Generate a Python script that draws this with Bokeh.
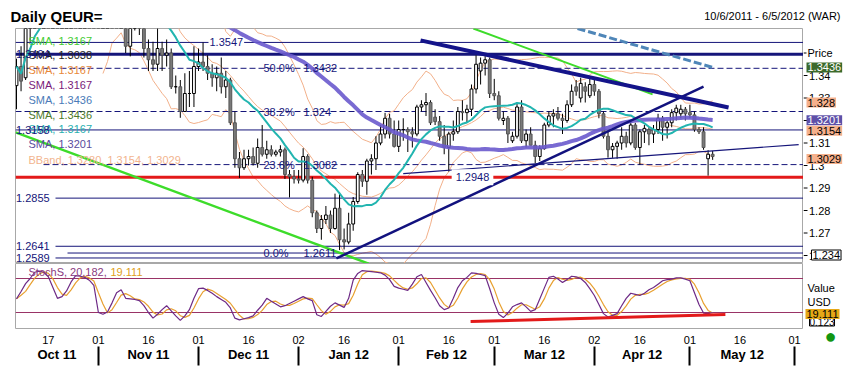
import numpy as np
import pandas as pd
from bokeh.plotting import figure
from bokeh.layouts import column, row
from bokeh.models import Range1d, LinearAxis, FixedTicker, Label, ColumnDataSource
from bokeh.core.properties import value
from bokeh.embed import file_html
from bokeh.resources import INLINE

# ---------------- data ----------------
start_date = "2011-10-06"   # first candle; one candle per trading day
opens = [1.3355, 1.3440, 1.3390, 1.3620, 1.3640, 1.3790, 1.3760, 1.3880, 1.3720, 1.3760,
         1.3730, 1.3780, 1.3900, 1.3920, 1.3900, 1.3910, 1.4180, 1.4150, 1.3860, 1.3690,
         1.3750, 1.3800, 1.3790, 1.3760, 1.3820, 1.3530, 1.3610, 1.3750, 1.3630, 1.3520,
         1.3470, 1.3450, 1.3520, 1.3490, 1.3500, 1.3350, 1.3350, 1.3240, 1.3320, 1.3320,
         1.3440, 1.3460, 1.3440, 1.3410, 1.3390, 1.3410, 1.3350, 1.3380, 1.3190, 1.3030,
         1.2990, 1.3030, 1.3040, 1.3010, 1.3080, 1.3050, 1.3070, 1.3050, 1.3060, 1.3070,
         1.2960, 1.2950, 1.2940, 1.2935, 1.3040, 1.2935, 1.2790, 1.2720, 1.2760, 1.2780,
         1.2720, 1.2810, 1.2670, 1.2660, 1.2740, 1.2840, 1.2960, 1.2930, 1.3020, 1.3030,
         1.3100, 1.3140, 1.3210, 1.3140, 1.3085, 1.3160, 1.3160, 1.3150, 1.3140, 1.3260,
         1.3270, 1.3280, 1.3215, 1.3195, 1.3130, 1.3080, 1.3140, 1.3150, 1.3240, 1.3235,
         1.3250, 1.3340, 1.3420, 1.3455, 1.3470, 1.3320, 1.3310, 1.3200, 1.3210, 1.3110,
         1.3130, 1.3260, 1.3110, 1.3140, 1.3090, 1.3040, 1.3075, 1.3180, 1.3220, 1.3230,
         1.3210, 1.3200, 1.3270, 1.3350, 1.3300, 1.3350, 1.3310, 1.3360, 1.3330, 1.3230,
         1.3130, 1.3070, 1.3085, 1.3100, 1.3130, 1.3100, 1.3180, 1.3080, 1.3150, 1.3160,
         1.3140, 1.3160, 1.3210, 1.3170, 1.3190, 1.3235, 1.3230, 1.3250, 1.3235, 1.3225,
         1.3160, 1.3150, 1.3030, 1.3050]
highs = [1.3475, 1.3530, 1.3660, 1.3700, 1.3830, 1.3810, 1.3890, 1.3910, 1.3800, 1.3840,
         1.3790, 1.3905, 1.3960, 1.3970, 1.3960, 1.4247, 1.4200, 1.4160, 1.3870, 1.3800,
         1.3870, 1.3860, 1.3800, 1.3850, 1.3850, 1.3650, 1.3790, 1.3790, 1.3660, 1.3560,
         1.3550, 1.3610, 1.3550, 1.3560, 1.3520, 1.3400, 1.3380, 1.3410, 1.3420, 1.3530,
         1.3520, 1.3547, 1.3490, 1.3450, 1.3440, 1.3480, 1.3420, 1.3390, 1.3240, 1.3060,
         1.3070, 1.3070, 1.3080, 1.3120, 1.3180, 1.3110, 1.3090, 1.3070, 1.3090, 1.3080,
         1.2980, 1.2980, 1.2980, 1.3077, 1.3050, 1.2950, 1.2800, 1.2780, 1.2820, 1.2800,
         1.2875, 1.2880, 1.2720, 1.2790, 1.2860, 1.2970, 1.2980, 1.3030, 1.3050, 1.3130,
         1.3180, 1.3234, 1.3230, 1.3200, 1.3200, 1.3210, 1.3170, 1.3170, 1.3270, 1.3290,
         1.3322, 1.3290, 1.3250, 1.3220, 1.3180, 1.3150, 1.3200, 1.3260, 1.3290, 1.3270,
         1.3360, 1.3490, 1.3480, 1.3486, 1.3480, 1.3385, 1.3330, 1.3240, 1.3220, 1.3150,
         1.3280, 1.3290, 1.3160, 1.3170, 1.3110, 1.3090, 1.3190, 1.3240, 1.3250, 1.3260,
         1.3230, 1.3290, 1.3360, 1.3380, 1.3390, 1.3370, 1.3385, 1.3385, 1.3340, 1.3240,
         1.3150, 1.3100, 1.3110, 1.3170, 1.3150, 1.3200, 1.3190, 1.3160, 1.3180, 1.3170,
         1.3180, 1.3230, 1.3220, 1.3200, 1.3250, 1.3270, 1.3270, 1.3260, 1.3270, 1.3240,
         1.3170, 1.3170, 1.3068, 1.3065]
lows = [1.3250, 1.3330, 1.3380, 1.3550, 1.3610, 1.3700, 1.3730, 1.3690, 1.3655, 1.3700,
        1.3655, 1.3740, 1.3850, 1.3845, 1.3780, 1.3890, 1.4100, 1.3840, 1.3610, 1.3660,
        1.3610, 1.3720, 1.3660, 1.3700, 1.3500, 1.3485, 1.3600, 1.3580, 1.3480, 1.3420,
        1.3420, 1.3420, 1.3420, 1.3440, 1.3340, 1.3320, 1.3212, 1.3240, 1.3260, 1.3260,
        1.3420, 1.3420, 1.3380, 1.3350, 1.3330, 1.3320, 1.3300, 1.3180, 1.2990, 1.2945,
        1.2980, 1.3000, 1.3000, 1.2990, 1.3040, 1.3030, 1.3040, 1.3040, 1.3040, 1.2940,
        1.2858, 1.2920, 1.2920, 1.2925, 1.2920, 1.2770, 1.2700, 1.2670, 1.2740, 1.2700,
        1.2715, 1.2624, 1.2627, 1.2650, 1.2710, 1.2830, 1.2905, 1.2870, 1.2960, 1.2980,
        1.3090, 1.3120, 1.3120, 1.3080, 1.3060, 1.3110, 1.3060, 1.3080, 1.3130, 1.3240,
        1.3220, 1.3180, 1.3180, 1.3110, 1.3050, 1.2973, 1.3110, 1.3140, 1.3200, 1.3190,
        1.3220, 1.3320, 1.3360, 1.3400, 1.3300, 1.3290, 1.3200, 1.3180, 1.3100, 1.3100,
        1.3120, 1.3100, 1.3080, 1.3090, 1.3010, 1.3020, 1.3070, 1.3170, 1.3170, 1.3200,
        1.3140, 1.3190, 1.3260, 1.3310, 1.3280, 1.3280, 1.3300, 1.3310, 1.3210, 1.3120,
        1.3035, 1.3034, 1.3030, 1.3070, 1.3080, 1.3090, 1.3070, 1.3003, 1.3100, 1.3090,
        1.3100, 1.3140, 1.3110, 1.3120, 1.3170, 1.3200, 1.3210, 1.3200, 1.3210, 1.3150,
        1.3140, 1.3070, 1.2955, 1.3025]
closes = [1.3440, 1.3375, 1.3620, 1.3640, 1.3790, 1.3760, 1.3880, 1.3720, 1.3760, 1.3730,
          1.3780, 1.3900, 1.3920, 1.3900, 1.3910, 1.4180, 1.4150, 1.3860, 1.3690, 1.3750,
          1.3800, 1.3790, 1.3760, 1.3820, 1.3530, 1.3610, 1.3750, 1.3630, 1.3520, 1.3470,
          1.3450, 1.3520, 1.3490, 1.3500, 1.3350, 1.3350, 1.3240, 1.3320, 1.3320, 1.3440,
          1.3460, 1.3440, 1.3410, 1.3390, 1.3410, 1.3350, 1.3380, 1.3190, 1.3030, 1.2990,
          1.3030, 1.3040, 1.3010, 1.3080, 1.3050, 1.3070, 1.3050, 1.3060, 1.3070, 1.2960,
          1.2950, 1.2940, 1.2935, 1.3040, 1.2935, 1.2790, 1.2720, 1.2760, 1.2780, 1.2720,
          1.2810, 1.2670, 1.2660, 1.2740, 1.2840, 1.2960, 1.2930, 1.3020, 1.3030, 1.3100,
          1.3140, 1.3210, 1.3140, 1.3085, 1.3160, 1.3160, 1.3150, 1.3140, 1.3260, 1.3270,
          1.3280, 1.3190, 1.3195, 1.3130, 1.3080, 1.3140, 1.3150, 1.3240, 1.3235, 1.3250,
          1.3340, 1.3450, 1.3455, 1.3470, 1.3320, 1.3310, 1.3210, 1.3210, 1.3140, 1.3130,
          1.3260, 1.3110, 1.3140, 1.3090, 1.3040, 1.3075, 1.3180, 1.3220, 1.3230, 1.3210,
          1.3200, 1.3270, 1.3330, 1.3330, 1.3365, 1.3330, 1.3360, 1.3330, 1.3230, 1.3130,
          1.3070, 1.3085, 1.3100, 1.3130, 1.3100, 1.3180, 1.3080, 1.3150, 1.3165, 1.3140,
          1.3160, 1.3210, 1.3170, 1.3190, 1.3235, 1.3255, 1.3250, 1.3230, 1.3225, 1.3160,
          1.3150, 1.3080, 1.3050, 1.3040]

# slow stochastic %K (one value per candle)
stoch_k = [44, 57, 71, 80, 91, 93, 91, 83, 64, 45, 48, 58, 74, 85, 84, 82, 77, 68, 20, 17,
           21, 37, 55, 60, 45, 44, 43, 41, 32, 20, 10, 17, 25, 32, 23, 14, 6, 14, 25, 45,
           62, 63, 59, 54, 48, 43, 38, 28, 10, 7, 9, 11, 14, 24, 33, 45, 40, 35, 30, 32,
           36, 40, 44, 48, 44, 41, 16, 13, 22, 31, 37, 33, 29, 45, 77, 89, 94, 93, 92, 91,
           90, 86, 78, 66, 63, 61, 59, 70, 83, 87, 73, 59, 46, 32, 25, 28, 45, 64, 76, 82,
           90, 89, 87, 85, 62, 37, 17, 11, 19, 30, 34, 37, 30, 22, 25, 44, 63, 82, 84, 79,
           73, 78, 84, 83, 80, 73, 62, 50, 34, 18, 12, 15, 18, 32, 45, 54, 52, 50, 54, 60,
           64, 70, 76, 78, 79, 81, 81, 79, 76, 55, 34, 19, 18, 20]

# indicator settings
sma_fast_n = 15
sma_slow_n = 60
bb_n = 20
stoch_d_n = 3

# horizontal price levels
hline_levels = [1.3547, 1.3494, 1.3158, 1.2948, 1.2855, 1.2641, 1.2589]
hline_labels = ["1.3547", "1.3494", "1.3158", "1.2948", "1.2855", "1.2641", "1.2589"]
fib_levels = [1.3432, 1.3240, 1.3004, 1.2611]
fib_pct = ["50.0%", "38.2%", "23.6%", "0.0%"]
fib_text = ["1.3432", "1.324", "1.3082", "1.2611"]

# trend lines: (start day, start price, end day, end price)
tl_up = (70.3, 1.2587, 151.0, 1.3351)
tl_down = (88.8, 1.3556, 156.5, 1.3258)
tl_green_hi = (100.4, 1.3609, 139.8, 1.3316)
tl_green_lo = (-0.2, 1.3147, 77.4, 1.2564)
tl_thin = (85.0, 1.2964, 171.9, 1.3093)
tl_dash = (123.3, 1.3609, 153.0, 1.3436)
stoch_support = (99.8, 4.1, 155.8, 16.5)

legend_texts = ["SMA, 1.3167", "SMA, 1.3038", "SMA, 1.3167", "SMA, 1.3167", "SMA, 1.3436",
                "SMA, 1.3436", "SMA, 1.3167", "SMA, 1.3201", "BBand, 1.3280, 1.3154, 1.3029"]
legend_colors = ["#44cc33", "#222222", "#e8883a", "#7a1a7a", "#4a7ab8", "#4d7a2a", "#2ab0b0",
                 "#5a4c9c", "#f2b48e"]

tick_days = [7, 18, 29, 40, 51, 62, 72, 84, 95, 105, 116, 127, 137, 148, 159, 171]
tick_labels = ["17", "01", "16", "01", "16", "02", "16", "01", "16", "01", "16", "02", "16",
               "01", "16", "01"]
month_bounds = [18, 40, 62, 84, 105, 127, 148, 171]
month_names = ["Oct 11", "Nov 11", "Dec 11", "Jan 12", "Feb 12", "Mar 12", "Apr 12", "May 12"]
price_ticks = [1.26, 1.27, 1.28, 1.29, 1.3, 1.31, 1.32, 1.33, 1.34, 1.35]
price_tick_labels = ["1.26", "1.27", "1.28", "1.29", "1.3", "1.31", "1.32", "1.33", "1.34", "1.35"]

# ---------------- layout helpers (page pixel -> data) ----------------
def gx(px):
    return (px - 16) / 4.55

def gy(py):
    return 1.30 + (165 - py) / 2250.0

def sy(py):
    return 20 + (312 - py) * 60.0 / 34.0

FONT = "Liberation Sans"
NAVY = "#15157a"

n = len(closes)
idx = np.arange(n)
df = pd.DataFrame({"o": opens, "h": highs, "l": lows, "c": closes}, index=idx)
sma_fast = df.c.rolling(sma_fast_n, min_periods=1).mean()
sma_slow = df.c.rolling(sma_slow_n, min_periods=40).mean()
bb_mid = df.c.rolling(bb_n).mean()
bb_sd = df.c.rolling(bb_n).std(ddof=0)
bb_up = bb_mid + 2 * bb_sd
bb_lo = bb_mid - 2 * bb_sd
k_ser = pd.Series(stoch_k, dtype=float)
d_ser = k_ser.rolling(stoch_d_n, min_periods=1).mean()


def blank(fig):
    fig.grid.visible = False
    fig.outline_line_color = None


def lab(fig, x, y, text, color="#000000", size="11px", align="left", bold=False,
        bg=None, border=None, pad=0, baseline="middle"):
    fig.add_layout(Label(x=x, y=y, text=text, text_color=color, text_font=FONT,
                         text_font_size=size, text_align=align, text_baseline=baseline,
                         text_font_style="bold" if bold else "normal",
                         background_fill_color=bg, border_line_color=border,
                         padding=pad))


def tline(fig, t, color, width, dash="solid", alpha=1.0):
    fig.line([t[0], t[2]], [t[1], t[3]], line_color=color, line_width=width,
             line_dash=dash, line_alpha=alpha)


# ---------------- top strip (title) ----------------
ptop = figure(width=845, height=28, x_range=Range1d(0, 845), y_range=Range1d(28, 0),
              output_backend="svg", toolbar_location=None, title=None,
              x_axis_location=None, y_axis_location=None, min_border=0)
blank(ptop)
lab(ptop, 10, 15.5, "Daily QEUR=", "#000000", size="15px", bold=True)
lab(ptop, 840, 15, "10/6/2011 - 6/5/2012 (WAR)", "#000000", size="11px", align="right")

# ---------------- main price panel ----------------
xr = Range1d(gx(15), gx(803))
yr = Range1d(gy(263), gy(28))
p1 = figure(width=803, height=235, x_range=xr, y_range=yr,
            output_backend="svg", toolbar_location=None, title=None,
            x_axis_location=None, y_axis_location=None,
            min_border_left=15, min_border_right=0, min_border_top=0, min_border_bottom=0)
p1.grid.visible = False
p1.outline_line_color = "#a8a8a8"

for ser in (bb_up, bb_mid, bb_lo):
    p1.line(idx, ser.values, line_color="#f2b08a", line_width=1)

full0, full1 = gx(15), gx(803)
hl_starts = [full0, full0, full0, full0, gx(55), gx(55), gx(55)]
hl_widths = [1, 3, 1, 3, 1, 1, 1]
hl_colors = [NAVY, NAVY, NAVY, "#e31a1a", NAVY, NAVY, NAVY]
for lev, st, w, c in zip(hline_levels, hl_starts, hl_widths, hl_colors):
    p1.segment(x0=[st], y0=[lev], x1=[full1], y1=[lev], line_color=c, line_width=w)
fib_starts = [gx(15), gx(15), gx(43), gx(67)]
fib_dash = ["6 3", "6 3", "6 3", "solid"]
for lev, st, ds in zip(fib_levels, fib_starts, fib_dash):
    p1.segment(x0=[st], y0=[lev], x1=[full1], y1=[lev], line_color=NAVY, line_width=1,
               line_dash=ds)

inc = df.c >= df.o
src = ColumnDataSource(dict(x=idx, h=df.h, l=df.l, top=np.maximum(df.o, df.c),
                            bot=np.minimum(df.o, df.c),
                            fill=np.where(inc, "#ffffff", "#7a7a7a"),
                            line=np.where(inc, "#000000", "#555555")))
p1.segment(x0="x", y0="l", x1="x", y1="h", source=src, line_color="#000000", line_width=1)
p1.vbar(x="x", top="top", bottom="bot", width=0.62, source=src, fill_color="fill",
        line_color="line", line_width=1)

p1.line(idx, sma_slow.values, line_color="#6a5acd", line_width=4, line_alpha=0.9)
p1.line(idx, sma_fast.values, line_color="#22b5b0", line_width=2)

tline(p1, tl_green_lo, "#3ddc2a", 2.5)
tline(p1, tl_green_hi, "#3ddc2a", 2)
tline(p1, tl_thin, NAVY, 1.2)
tline(p1, tl_up, "#12127e", 2.5)
tline(p1, tl_down, "#14148a", 4)
tline(p1, tl_dash, "#4f86b8", 3, "8 3")

leg_y = [40, 54, 69.5, 84, 99, 114, 128.5, 143.5, 159]
for t, c, yy in zip(legend_texts, legend_colors, leg_y):
    lab(p1, gx(28), gy(yy), t, c)

for lev, t in zip(hline_levels, hline_labels):
    if t in ("1.3494", "1.3158", "1.2855", "1.2641", "1.2589"):
        lab(p1, gx(15.5), lev, t, NAVY)
lab(p1, gx(208), 1.3547, "1.3547", NAVY, bg="#ffffff", pad=1)
lab(p1, gx(472), 1.2948, "1.2948", NAVY, align="center", bg="#ffffff", pad=4)

for lev, pc, tx in zip(fib_levels, fib_pct, fib_text):
    lab(p1, gx(263), lev, pc, NAVY)
    lab(p1, gx(303), lev, tx, NAVY)

# ---------------- price scale strip ----------------
pr1 = figure(width=42, height=235, x_range=Range1d(803, 845), y_range=yr,
             output_backend="svg", toolbar_location=None, title=None,
             x_axis_location=None, y_axis_location=None, min_border=0)
blank(pr1)
pr1.segment(x0=[803] * len(price_ticks), y0=price_ticks, x1=[807] * len(price_ticks),
            y1=price_ticks, line_color="#000000", line_width=1)
pr1.text(x=[808.5] * len(price_ticks), y=price_ticks, text=price_tick_labels,
         text_font=value(FONT), text_font_size="11px", text_baseline="middle",
         text_color="#000000")
lab(pr1, 806, gy(52.5), "Price", "#000000", bg="#ffffff", pad=1)
lab(pr1, 806, 1.3436, "1.3436", "#ffffff", bg="#3c6a2c", pad=1)
lab(pr1, 806, 1.3280, "1.328", "#000000", bg="#f5b08c", pad=1)
lab(pr1, 806, 1.3201, "1.3201", "#ffffff", bg="#5e50a8", pad=1)
lab(pr1, 806, 1.3154, "1.3154", "#000000", bg="#f5b08c", pad=1)
lab(pr1, 806, 1.3029, "1.3029", "#000000", bg="#f5b08c", pad=1)
lab(pr1, 811, gy(254.5), "1.234", "#000000", bg="#ffffff", border="#000000", pad=1)

# ---------------- stochastic panel ----------------
syr = Range1d(sy(328), sy(263))
p2 = figure(width=803, height=120, x_range=xr, y_range=syr,
            output_backend="svg", toolbar_location=None, title=None,
            x_axis_location=None, y_axis_location=None,
            min_border_left=15, min_border_right=0, min_border_top=0, min_border_bottom=55)
p2.grid.visible = False
p2.outline_line_color = "#a8a8a8"

for lev in (80, 20):
    p2.segment(x0=[full0], y0=[lev], x1=[full1], y1=[lev], line_color="#993366", line_width=1)
p2.line(idx, d_ser.values, line_color="#e8a030", line_width=1.2)
p2.line(idx, k_ser.values, line_color="#6e2a86", line_width=1.2)
tline(p2, stoch_support, "#e31a1a", 3)

lab(p2, gx(28), sy(271.5), "StochS, 20.182,", "#8a3a80")
lab(p2, gx(110), sy(271.5), "19.111", "#e0a020")

xax = LinearAxis(ticker=FixedTicker(ticks=tick_days),
                 major_label_overrides={d: s for d, s in zip(tick_days, tick_labels)})
xax.axis_line_color = None
xax.major_tick_out = 0
xax.major_tick_in = 0
xax.minor_tick_out = 0
xax.minor_tick_in = 0
xax.major_label_standoff = 7
xax.major_label_text_font = FONT
xax.major_label_text_font_size = "11px"
xax.major_label_text_color = "#000000"
p2.add_layout(xax, "below")

bounds = [gx(15)] + month_bounds
month_mid = [(a + b) / 2.0 for a, b in zip(bounds[:-1], bounds[1:])]
max_ = LinearAxis(ticker=FixedTicker(ticks=month_mid, minor_ticks=month_bounds),
                  major_label_overrides={m: s for m, s in zip(month_mid, month_names)})
max_.axis_line_color = None
max_.major_tick_out = 0
max_.major_tick_in = 0
max_.minor_tick_out = 19
max_.minor_tick_in = 0
max_.minor_tick_line_width = 2
max_.minor_tick_line_color = "#000000"
max_.major_label_standoff = -19
max_.major_label_text_font = FONT
max_.major_label_text_font_size = "13px"
max_.major_label_text_font_style = "bold"
max_.major_label_text_color = "#000000"
p2.add_layout(max_, "below")

# ---------------- stochastic scale strip ----------------
pr2 = figure(width=42, height=120, x_range=Range1d(803, 845), y_range=syr,
             output_backend="svg", toolbar_location=None, title=None,
             x_axis_location=None, y_axis_location=None, min_border=0,
             min_border_bottom=55)
blank(pr2)
lab(pr2, 807, sy(287.5), "Value", "#000000")
lab(pr2, 807, sy(301), "USD", "#000000")
lab(pr2, 809, sy(321.5), "0.123", "#000000", size="10px", bg="#ffffff", border="#000000", pad=0)
lab(pr2, 805, sy(313.5), "19.111", "#000000", bg="#e6a817", pad=1)
dot = LinearAxis(ticker=FixedTicker(ticks=[830]), major_label_overrides={830: "\u25cf"})
dot.axis_line_color = None
dot.major_tick_out = 0
dot.major_tick_in = 0
dot.minor_tick_out = 0
dot.minor_tick_in = 0
dot.major_label_standoff = -4
dot.major_label_text_font_size = "20px"
dot.major_label_text_color = "#129612"
pr2.add_layout(dot, "below")

layout = column(ptop, row(p1, pr1, spacing=0), row(p2, pr2, spacing=0), spacing=0)
open("out.html", "w").write(file_html(layout, INLINE))
